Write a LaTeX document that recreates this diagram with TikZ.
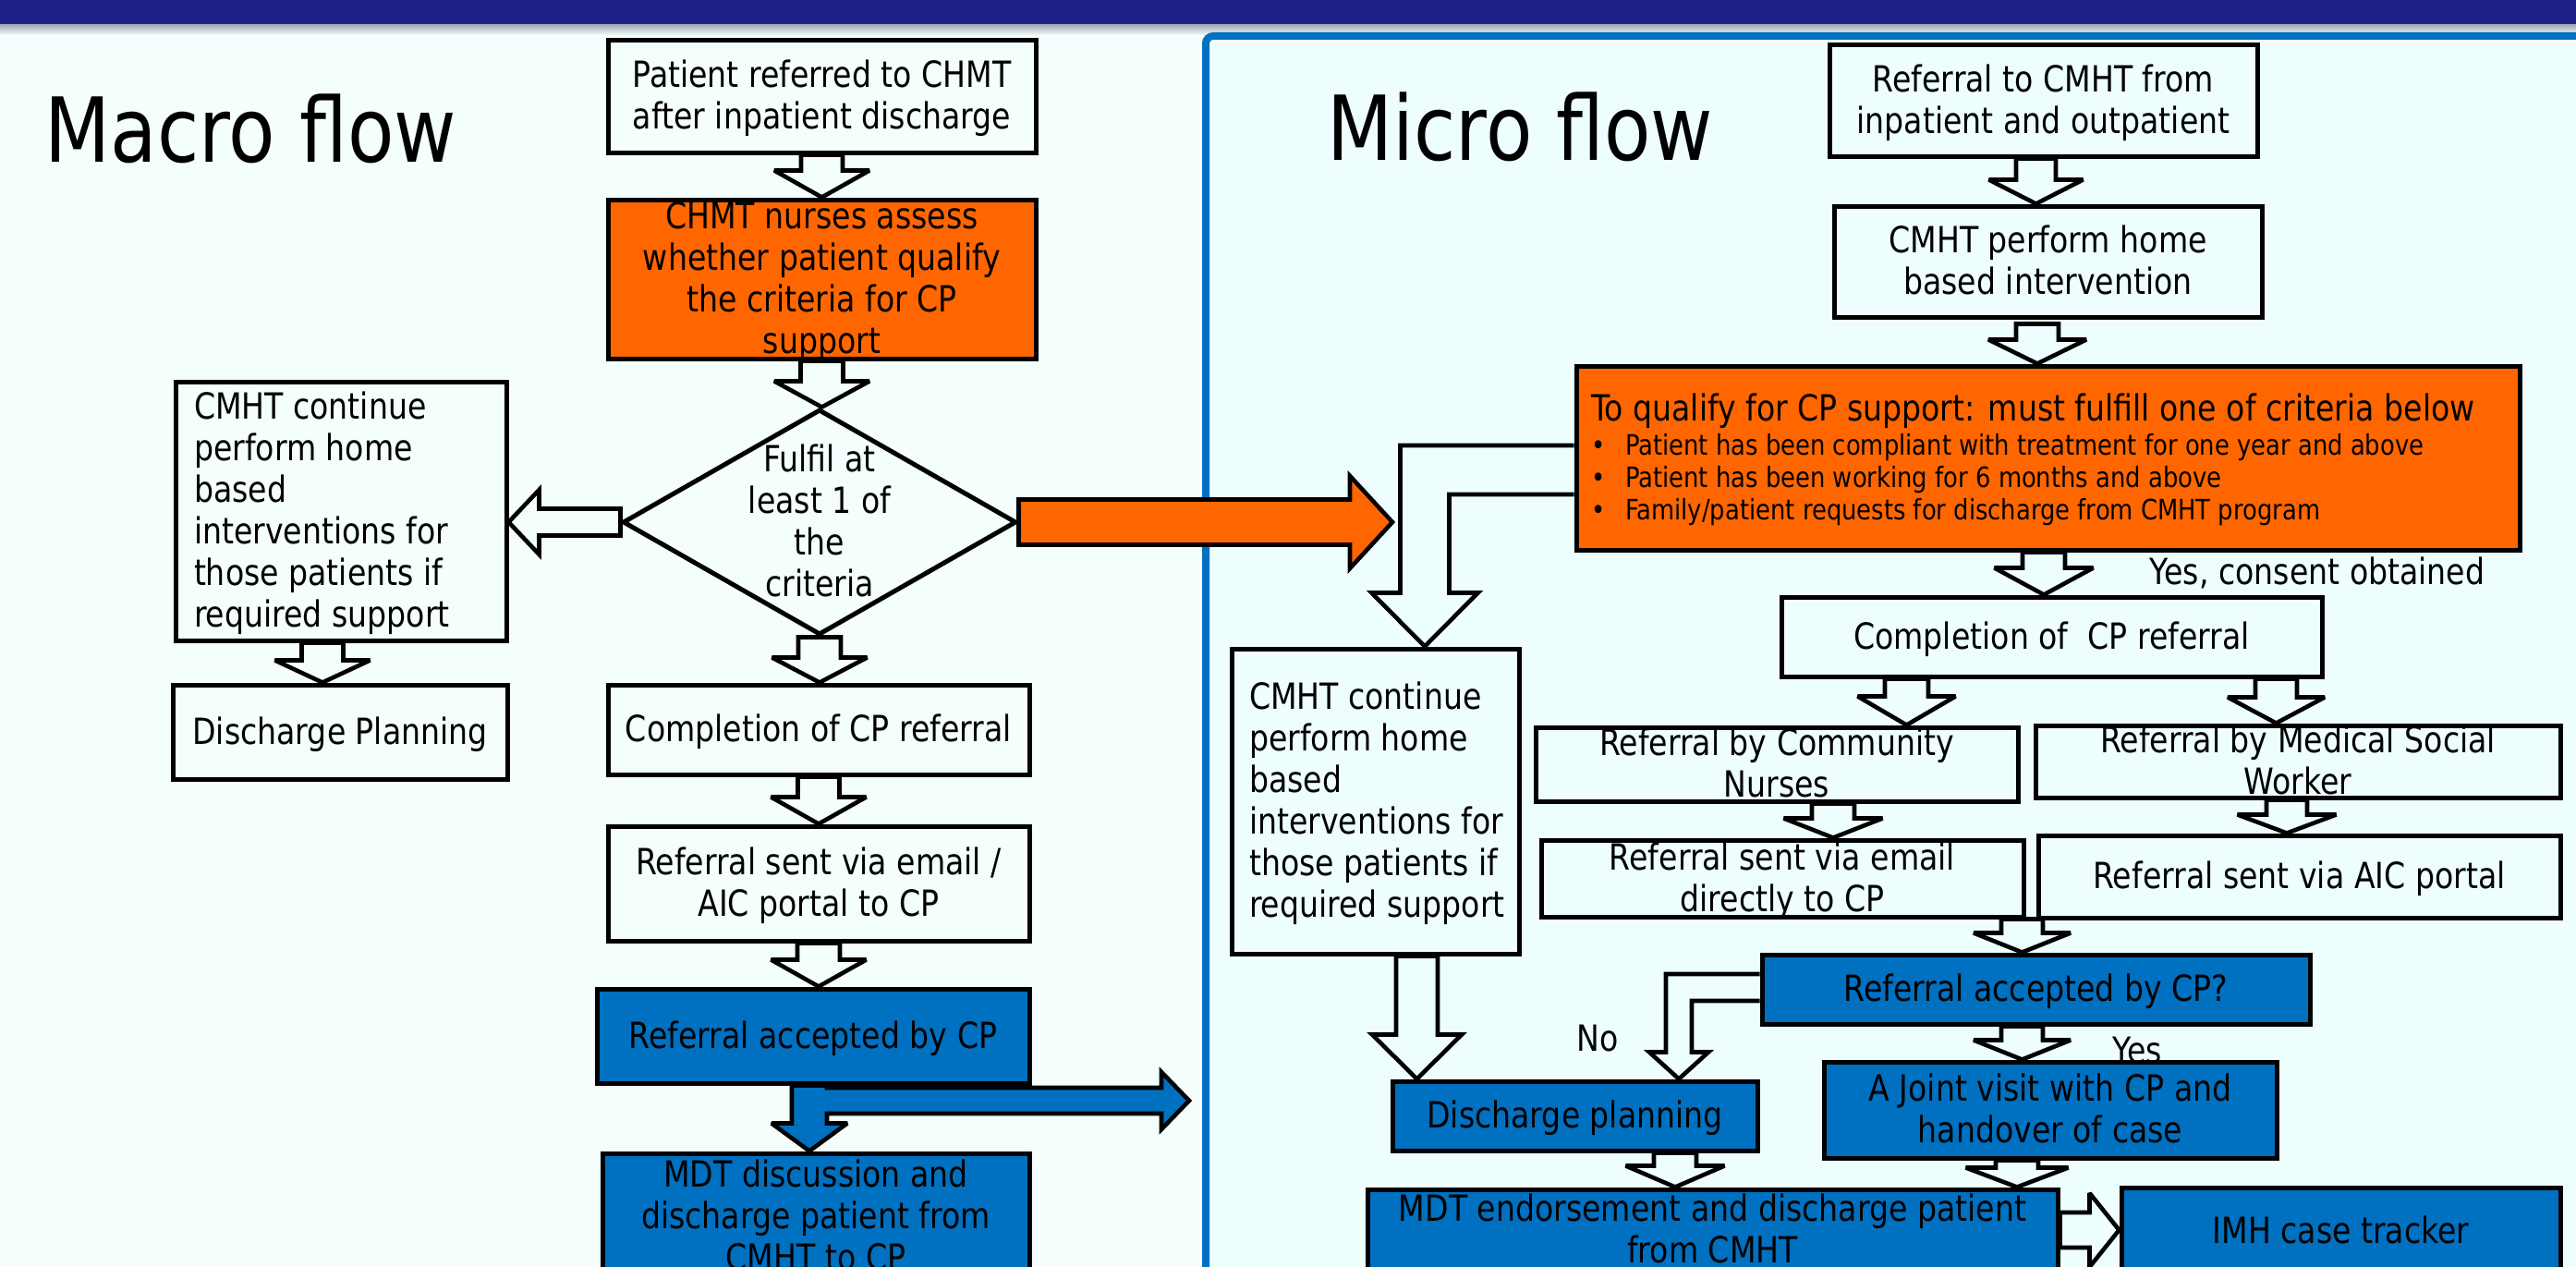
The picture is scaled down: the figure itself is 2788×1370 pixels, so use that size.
\documentclass[tikz,border=0pt]{standalone}
\usepackage{fontspec}
\setmainfont{DejaVu Sans}[FakeStretch=0.85]
\usetikzlibrary{shapes.geometric,calc}

\definecolor{navy}{HTML}{1F1F85}
\definecolor{shadowC}{HTML}{A4ACB8}
\definecolor{pageC}{HTML}{F3FEFD}
\definecolor{panelC}{HTML}{EEFEFE}
\definecolor{orangeC}{HTML}{FF6600}
\definecolor{blueC}{HTML}{0070C0}

\pgfdeclarelayer{under}
\pgfsetlayers{under,main}

\newcommand\boxfont{\fontsize{19.5pt}{22.5pt}\selectfont}
\newcommand\titlefont{\fontsize{48.5pt}{58pt}\selectfont}
\newcommand\bulfont{\fontsize{15.2pt}{17.5pt}\selectfont}
\newcommand\bul{\makebox[18.5pt][l]{•}}

% lines of text centred vertically on the node centre, without height
\newsavebox\tb
\newcommand\blocktext[2]{%
  \sbox\tb{\begin{tabular}{@{}#1@{}}#2\end{tabular}}%
  \smash{\lower\dimexpr(\ht\tb-\dp\tb)/2+2pt\relax\copy\tb}}

% vertical block arrow: start, tip, shaft half width, head half width, head length
\newcommand\vblock[6][hollowarrow]{%
  \filldraw[#1] let \p1=#2, \p2=#3 in
   (\x1-#4,\y1) -- (\x1-#4,\y2+#6) -- (\x1-#5,\y2+#6) -- (\x1,\y2)
   -- (\x1+#5,\y2+#6) -- (\x1+#4,\y2+#6) -- (\x1+#4,\y1) -- cycle;}
% horizontal block arrow: start, tip, shaft half width, head half width, signed head length
\newcommand\hblock[6][hollowarrow]{%
  \filldraw[#1] let \p1=#2, \p2=#3 in
   (\x1,\y1+#4) -- (\x2+#6,\y1+#4) -- (\x2+#6,\y1+#5) -- (\x2,\y1)
   -- (\x2+#6,\y1-#5) -- (\x2+#6,\y1-#4) -- (\x1,\y1-#4) -- cycle;}

\tikzset{
  dims/.style 2 args={minimum width=#1*0.5pt, minimum height=#2*0.5pt},
  box/.style={draw=black, line width=2.5pt, inner sep=0pt, font=\boxfont, line join=miter},
  wbox/.style={box, fill=pageC},
  mbox/.style={box, fill=panelC},
  obox/.style={box, fill=orangeC},
  bbox/.style={box, fill=blueC},
  diam/.style={box, shape=diamond, fill=pageC},
  hollowarrow/.style={draw=black, line width=2.3pt, fill=pageC, line join=miter, miter limit=3},
  marrow/.style={hollowarrow, fill=panelC},
  orangearrow/.style={hollowarrow, fill=orangeC},
  bluearrow/.style={hollowarrow, fill=blueC},
  lbl/.style={inner sep=0pt, font=\boxfont},
  heading/.style={inner sep=0pt, font=\titlefont, anchor=base west}
}

\begin{document}
\begin{tikzpicture}[x=0.5pt,y=-0.5pt]
\useasboundingbox (0,0) rectangle (2788,1370);

\begin{pgfonlayer}{under}
% page background and title band
\fill[pageC] (0,0) rectangle (2788,1370);
\fill[navy] (0,0) rectangle (2788,27);
\shade[top color=shadowC, bottom color=pageC] (0,27) rectangle (2788,38);
% micro flow panel
\fill[panelC] (1305,39) rectangle (2800,1400);
\draw[blueC, line width=4pt, rounded corners=4pt] (1305,1400) -- (1305,39) -- (2800,39);
\end{pgfonlayer}

% ---------- macro flow nodes ----------
\node[wbox, dims={463}{121}] (M1) at (889.5,104.5)
  {\blocktext{c}{Patient referred to CHMT\\after inpatient discharge}};
\node[obox, dims={463}{172}] (M2) at (889.5,302)
  {\blocktext{c}{CHMT nurses assess\\whether patient qualify\\the criteria for CP\\support}};
\node[diam, dims={426}{244}] (M3) at (887,565)
  {\blocktext{c}{Fulfil at\\least 1 of\\the\\criteria}};
\node[wbox, dims={358}{280}] (M4) at (369,553)
  {\makebox[159pt][l]{\blocktext{l}{CMHT continue\\perform home\\based\\interventions for\\those patients if\\required support}}};
\node[wbox, dims={362}{102}] (M5) at (368,792) {\blocktext{c}{Discharge Planning}};
\node[wbox, dims={456}{97}] (M6) at (886,789.5) {\blocktext{c}{Completion of CP referral}};
\node[wbox, dims={456}{124}] (M7) at (886,956)
  {\blocktext{c}{Referral sent via email /\\AIC portal to CP}};
\node[bbox, dims={468}{102}] (M8) at (880,1121) {\blocktext{c}{Referral accepted by CP}};
\node[bbox, dims={462}{136}] (M9) at (883,1316)
  {\blocktext{c}{MDT discussion and\\discharge patient from\\CMHT to CP}};

% ---------- micro flow nodes ----------
\node[mbox, dims={463}{120}] (P1) at (2211.5,109)
  {\blocktext{c}{Referral to CMHT from\\inpatient and outpatient}};
\node[mbox, dims={463}{120}] (P2) at (2216.5,283)
  {\blocktext{c}{CMHT perform home\\based intervention}};
\node[obox, dims={1021}{199}, font=\bulfont] (P3) at (2216.5,495.5)
  {\makebox[494.5pt][l]{\blocktext{l}{{\boxfont To qualify for CP support: must fulfill one of criteria below}\\[1.3pt]
   \bul Patient has been compliant with treatment for one year and above\\
   \bul Patient has been working for 6 months and above\\
   \bul Family/patient requests for discharge from CMHT program}}};
\node[mbox, dims={311}{330}] (P4) at (1488.5,867)
  {\makebox[136.5pt][l]{\blocktext{l}{CMHT continue\\perform home\\based\\interventions for\\those patients if\\required support}}};
\node[mbox, dims={585}{86}] (P5) at (2220.5,689) {\blocktext{c}{Completion of~ CP referral}};
\node[mbox, dims={522}{80}] (P6) at (1923,827) {\blocktext{c}{Referral by Community\\Nurses}};
\node[mbox, dims={568}{78}] (P7) at (2487,824) {\blocktext{c}{Referral by Medical Social\\Worker}};
\node[mbox, dims={522}{83}] (P8) at (1929,950.5) {\blocktext{c}{Referral sent via email\\directly to CP}};
\node[mbox, dims={565}{89}] (P9) at (2488.5,948.5) {\blocktext{c}{Referral sent via AIC portal}};
\node[bbox, dims={593}{75}] (P10) at (2203.5,1070.5) {\blocktext{c}{Referral accepted by CP?}};
\node[bbox, dims={395}{75}] (P11) at (1704.5,1207.5) {\blocktext{c}{Discharge planning}};
\node[bbox, dims={490}{104}] (P12) at (2219,1201) {\blocktext{c}{A Joint visit with CP and\\handover of case}};
\node[bbox, dims={747}{88}] (P13) at (1853.5,1331)
  {\blocktext{c}{MDT endorsement and discharge patient\\from CMHT}};
\node[bbox, dims={475}{94}] (P14) at (2533.5,1332) {\blocktext{c}{IMH case tracker}};

\begin{pgfonlayer}{under}
% ---------- macro flow connectors ----------
\vblock{(M1.south)}{(M2.north)}{11.25pt}{25.75pt}{14.5pt}
\vblock{(M2.south)}{(M3.north)}{11.5pt}{25.75pt}{14pt}
\vblock{(M3.south)}{(M6.north)}{11.5pt}{25.75pt}{13.5pt}
\vblock{(M6.south)}{(M7.north)}{11.25pt}{25.75pt}{14.5pt}
\vblock{(M7.south)}{(M8.north)}{11.5pt}{25.75pt}{14.5pt}
\vblock{($(M4.south)+(-20,0)$)}{(M5.north)}{11.25pt}{25.75pt}{12pt}
\hblock{(M3.west)}{(M4.east)}{7.25pt}{17.5pt}{16.5pt}
\coordinate (oTip) at (1507,565);
\hblock[orangearrow]{(M3.east)}{(oTip)}{12.25pt}{25pt}{-23pt}
% accepted referral: down to MDT and out to the right
\coordinate (bS) at ($(M8.south)+(-4,0)$);
\coordinate (bTip) at (1287,1191);
\filldraw[bluearrow] let \p1=(bS), \p2=(M9.north), \p3=(bTip) in
  (\x1-9.5pt,\y1) -- (\x1-9.5pt,\y2+15pt) -- (\x1-20.5pt,\y2+15pt) -- (\x1,\y2)
  -- (\x1+20.5pt,\y2+15pt) -- (\x1+9.5pt,\y2+15pt) -- (\x1+9.5pt,\y3-7pt)
  -- (\x3-15pt,\y3-7pt) -- (\x3-15pt,\y3-15.5pt) -- (\x3,\y3) -- (\x3-15pt,\y3+15.5pt)
  -- (\x3-15pt,\y3+7pt) -- (\x1+9.5pt,\y3+7pt) -- (\x1+9.5pt,\y1) -- cycle;

% ---------- micro flow connectors ----------
\vblock[marrow]{($(P1.south)+(-8,0)$)}{(P2.north)}{10.75pt}{25.5pt}{13pt}
\vblock[marrow]{($(P2.south)+(-11.5,5)$)}{(P3.north)}{11.5pt}{26.5pt}{13pt}
\vblock[marrow]{($(P3.south)+(-4.5,0)$)}{(P5.north)}{11.5pt}{26.75pt}{14.5pt}
\vblock[marrow]{($(P5.south)+(-157,0)$)}{(P6.north)}{11.75pt}{26.5pt}{15.5pt}
\vblock[marrow]{($(P5.south)+(243,0)$)}{(P7.north)}{11.25pt}{26.25pt}{14pt}
\vblock[marrow]{($(P6.south)+(61,0)$)}{(P8.north)}{11.5pt}{26.75pt}{10.5pt}
\vblock[marrow]{($(P7.south)+(-12,0)$)}{(P9.north)}{11pt}{26.75pt}{10pt}
\coordinate (c8) at ($(P10.north)+(-15,0)$);
\vblock[marrow]{(c8 |- P8.south)}{(P10.north)}{11.25pt}{26.25pt}{10.5pt}
\vblock[marrow]{($(P10.south)+(-15,0)$)}{(P12.north)}{11.25pt}{26.25pt}{10.5pt}
\vblock[marrow]{($(P4.south)+(45,0)$)}{(P11.north)}{11.25pt}{24.25pt}{24pt}
\vblock[marrow]{($(P11.south)+(108.5,0)$)}{(P13.north)}{11.5pt}{26.75pt}{11.5pt}
\vblock[marrow]{($(P12.south)+(-36,0)$)}{(P13.north)}{11.5pt}{27.75pt}{10.5pt}
\hblock[marrow]{(P13.east)}{(P14.west)}{9.5pt}{20pt}{-16pt}
% criteria not met: bent arrow down to the continuing CMHT care
\coordinate (lS) at ($(P3.west)+(0,13)$);
\coordinate (lT) at ($(P4.north)+(53.5,0)$);
\filldraw[marrow] let \p1=(lS), \p2=(lT) in
  (\x1,\y1+13.25pt) -- (\x2-13.25pt,\y1+13.25pt) -- (\x2-13.25pt,\y2+29pt)
  -- (\x2-28.75pt,\y2+29pt) -- (\x2,\y2) -- (\x2+28.75pt,\y2+29pt)
  -- (\x2+13.25pt,\y2+29pt) -- (\x2+13.25pt,\y1-13.25pt) -- (\x1,\y1-13.25pt);
% referral not accepted: bent arrow to discharge planning
\coordinate (nS) at ($(P10.west)+(0,-2)$);
\coordinate (nT) at ($(P11.north)+(112.5,0)$);
\filldraw[marrow] let \p1=(nS), \p2=(nT) in
  (\x1,\y1+7.25pt) -- (\x2-7pt,\y1+7.25pt) -- (\x2-7pt,\y2+14.5pt)
  -- (\x2-16pt,\y2+14.5pt) -- (\x2,\y2) -- (\x2+16pt,\y2+14.5pt)
  -- (\x2+7pt,\y2+14.5pt) -- (\x2+7pt,\y1-7.25pt) -- (\x1,\y1-7.25pt);
\end{pgfonlayer}

% ---------- headings and labels ----------
\node[heading] (T1) at (48,175) {Macro flow};
\node[heading] (T2) at (1436,173) {Micro flow};
\node[lbl] (L1) at (2508,620) {Yes, consent obtained};
\node[lbl] (L2) at (1729,1124) {No};
\node[lbl] (L3) at (2313,1137) {Yes};
\end{tikzpicture}
\end{document}
